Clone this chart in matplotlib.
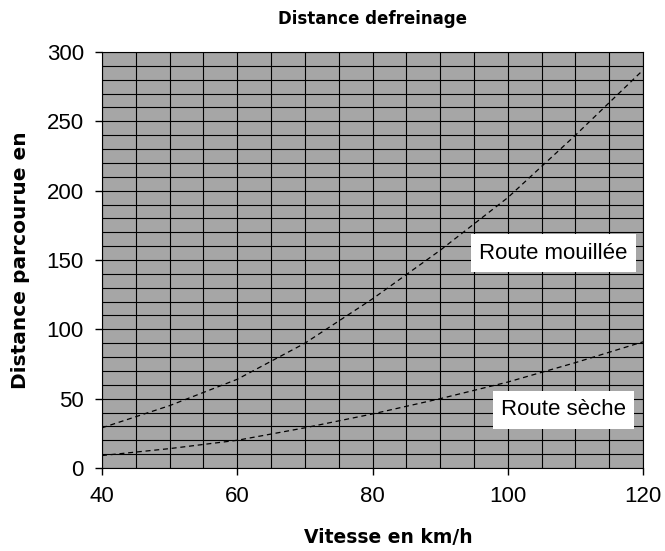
import numpy as np
import matplotlib
matplotlib.use("Agg")
import matplotlib.pyplot as plt

# vitesse (km/h) et distances (m)
vitesse = [40, 50, 60, 70, 80, 90, 100, 110, 120]
mouillee = [29, 45, 64, 90, 122, 157, 195, 240, 287]
seche = [9, 14, 20, 29, 39, 50, 62, 76, 91]

fig = plt.figure(figsize=(6.65, 5.51), dpi=100)
ax = fig.add_axes([0.1534, 0.1506, 0.8136, 0.7550])
ax.set_facecolor('#a6a6a6')

ax.plot(vitesse, mouillee, color='black', lw=0.9, ls=(0, (4, 3)))
ax.plot(vitesse, seche, color='black', lw=0.9, ls=(0, (4, 3)))

ax.set_xlim(40, 120)
ax.set_ylim(0, 300)
ax.set_xticks([40, 60, 80, 100, 120])
ax.set_yticks([0, 50, 100, 150, 200, 250, 300])
ax.set_xticks(np.arange(40, 121, 5), minor=True)
ax.set_yticks(np.arange(0, 301, 10), minor=True)
ax.grid(which='both', color='black', lw=0.8)
ax.tick_params(which='minor', length=0)
ax.tick_params(which='major', length=5, width=1, labelsize=16, pad=8)
for lab in ax.get_xticklabels() + ax.get_yticklabels():
    lab.set_fontfamily('Liberation Sans')

for s in ax.spines.values():
    s.set_color('black')

ax.text(95.8, 155, 'Route mouillée', fontsize=16, va='center', ha='left',
        family='Liberation Sans',
        bbox=dict(facecolor='white', edgecolor='none', pad=6))
ax.text(99.0, 42, 'Route sèche', fontsize=16, va='center', ha='left',
        family='Liberation Sans',
        bbox=dict(facecolor='white', edgecolor='none', pad=6))

ax.set_title('Distance defreinage', fontsize=12, fontweight='bold', pad=20)
ax.set_xlabel('Vitesse en km/h', fontsize=13.5, fontweight='bold', labelpad=14)
ax.xaxis.set_label_coords(0.53, -0.145)
ax.set_ylabel('Distance parcourue en', fontsize=14.5, fontweight='bold', labelpad=12)

fig.savefig('out.png', dpi=100, facecolor='white')
